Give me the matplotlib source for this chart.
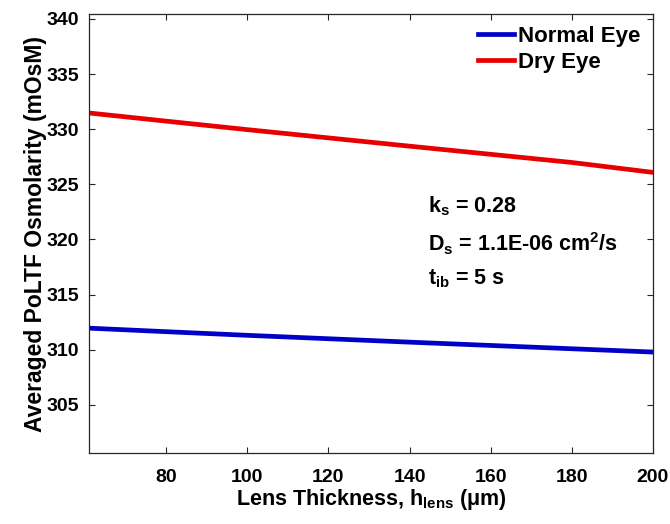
import numpy as np
import matplotlib
matplotlib.use("Agg")
from matplotlib import pyplot as plt

# Espesor de lente (um) y osmolaridad promedio de la PoLTF (mOsM)
h_lens = [61, 80, 100, 120, 140, 160, 180, 200]
osm_normal = [311.95, 311.63, 311.30, 310.99, 310.68, 310.38, 310.08, 309.78]
osm_dry = [331.47, 330.73, 329.96, 329.21, 328.46, 327.72, 326.98, 326.08]
x_ticks = [80, 100, 120, 140, 160, 180, 200]
y_ticks = [305, 310, 315, 320, 325, 330, 335, 340]
params = [r"k$_{\mathregular{s}}$ = 0.28",
          r"D$_{\mathregular{s}}$ = 1.1E-06 cm$^{\mathregular{2}}$/s",
          r"t$_{\mathregular{ib}}$ = 5 s"]

plt.rcParams["font.family"] = ["Liberation Sans", "DejaVu Sans"]
plt.rcParams["font.weight"] = "bold"
plt.rcParams["mathtext.fontset"] = "custom"
plt.rcParams["mathtext.rm"] = "Liberation Sans:bold"
plt.rcParams["mathtext.it"] = "Liberation Sans:bold"
plt.rcParams["mathtext.bf"] = "Liberation Sans:bold"
plt.rcParams["mathtext.default"] = "regular"

fig = plt.figure(figsize=(6.7, 5.24), dpi=100)
ax = fig.add_axes([0.1328, 0.135, 0.8418, 0.8383])

ax.plot(h_lens, osm_normal, color="#0000C8", lw=3.4, label="Normal Eye")
ax.plot(h_lens, osm_dry, color="#E80000", lw=3.4, label="Dry Eye")

ax.set_xlim(61, 200)
ax.set_ylim(300.6, 340.45)
ax.set_xticks(x_ticks)
ax.set_yticks(y_ticks)
ax.tick_params(direction="in", length=4, width=0.8, colors="#262626",
               labelsize=14, labelcolor="black", top=True, right=True)
ax.tick_params(axis="x", pad=11)
ax.tick_params(axis="y", pad=7)
for s in ax.spines.values():
    s.set_color("#262626")
    s.set_linewidth(0.9)

ax.set_xlabel(r"Lens Thickness, h$_{\mathregular{lens}}$ (μm)", fontsize=15.5,
              fontweight="bold", labelpad=1)
ax.set_ylabel("Averaged PoLTF Osmolarity (mOsM)", fontsize=16.5,
              fontweight="bold", labelpad=0)

# Parametros del modelo
for txt, yf in zip(params, [0.562, 0.476, 0.398]):
    ax.text(0.601, yf, txt, transform=ax.transAxes, fontsize=15.5,
            fontweight="bold", va="center", ha="left")

leg = ax.legend(loc="upper right", frameon=False, fontsize=16, handlelength=1.6,
                handletextpad=0.2, borderaxespad=0.15, labelspacing=0.2,
                bbox_to_anchor=(1.0, 1.0))

fig.savefig("out.png", dpi=100)
